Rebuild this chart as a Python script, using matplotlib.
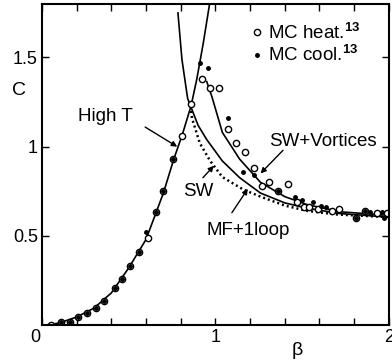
import matplotlib.pyplot as plt
from matplotlib.transforms import ScaledTranslation

plt.rcParams['font.family'] = ['Liberation Sans', 'DejaVu Sans']
plt.rcParams['mathtext.fontset'] = 'custom'
plt.rcParams['mathtext.rm'] = 'Liberation Sans'
plt.rcParams['mathtext.bf'] = 'Liberation Sans:bold'

# curves (beta, C)
hight_beta = [0.0, 0.05, 0.1, 0.2, 0.3, 0.4, 0.5, 0.6, 0.65, 0.7, 0.76, 0.81, 0.86, 0.893, 0.93, 0.968]
hight_C = [0.0, 0.003, 0.012, 0.045, 0.095, 0.18, 0.32, 0.48, 0.61, 0.74, 0.93, 1.07, 1.23, 1.38, 1.58, 1.81]

mf_beta = [0.784, 0.807, 0.824, 0.84, 0.9, 0.95, 1.04, 1.14, 1.26, 1.4, 1.53, 1.72, 2.0]
mf_C = [1.75, 1.49, 1.376, 1.27, 1.12, 1.04, 0.92, 0.826, 0.74, 0.685, 0.655, 0.625, 0.605]

sw_beta = [0.86, 0.865, 0.91, 0.97, 1.04, 1.16, 1.26, 1.4, 1.53, 1.7, 2.0]
sw_C = [1.2, 1.16, 1.02, 0.92, 0.83, 0.76, 0.72, 0.67, 0.64, 0.62, 0.605]

swv_beta = [0.95, 0.98, 1.04, 1.14, 1.26, 1.4, 1.53, 1.72, 2.0]
swv_C = [1.365, 1.28, 1.08, 0.93, 0.80, 0.72, 0.675, 0.635, 0.615]

# Monte Carlo data
heat_beta = [0.05, 0.11, 0.16, 0.21, 0.26, 0.31, 0.36, 0.42, 0.46, 0.51, 0.56, 0.61, 0.66, 0.70,
             0.755, 0.81, 0.86, 0.92, 0.97, 1.02, 1.07, 1.12, 1.17, 1.22, 1.27, 1.31, 1.36, 1.42,
             1.47, 1.51, 1.54, 1.59, 1.67, 1.71, 1.81, 1.86, 1.93, 1.99]
heat_C = [0.0, 0.015, 0.02, 0.045, 0.065, 0.095, 0.135, 0.21, 0.26, 0.33, 0.41, 0.49, 0.635, 0.75,
          0.93, 1.06, 1.24, 1.38, 1.33, 1.33, 1.10, 1.02, 0.97, 0.88, 0.78, 0.80, 0.75, 0.79,
          0.69, 0.66, 0.66, 0.65, 0.64, 0.65, 0.60, 0.64, 0.63, 0.63]

cool_beta = [0.11, 0.16, 0.21, 0.26, 0.31, 0.36, 0.42, 0.46, 0.51, 0.56, 0.60, 0.66, 0.70, 0.755,
             0.91, 0.96, 1.07, 1.16, 1.22, 1.36, 1.46, 1.50, 1.56, 1.61, 1.64, 1.81, 1.86, 1.89,
             1.96, 1.97]
cool_C = [0.015, 0.02, 0.045, 0.065, 0.095, 0.135, 0.21, 0.26, 0.33, 0.41, 0.52, 0.635, 0.75, 0.93,
          1.47, 1.44, 1.16, 0.86, 0.84, 0.75, 0.72, 0.70, 0.69, 0.67, 0.66, 0.60, 0.64, 0.635,
          0.635, 0.60]

fig = plt.figure(figsize=(3.92, 3.62), dpi=100)
ax = fig.add_axes([0.107, 0.102, 0.885, 0.887])

ax.plot(hight_beta, hight_C, color='black', lw=1.2)
ax.plot(mf_beta, mf_C, color='black', lw=1.2)
ax.plot(swv_beta, swv_C, color='black', lw=1.2)
ax.plot(sw_beta, sw_C, color='black', lw=1.8, linestyle=(0, (0.8, 1.2)))

ax.plot(heat_beta, heat_C, 'o', mfc='white', mec='black', ms=4.5, mew=1.0,
        label=r'MC heat.$^{\mathbf{13}}$')
ax.plot(cool_beta, cool_C, 'o', color='black', ms=2.5,
        label=r'MC cool.$^{\mathbf{13}}$')

ax.legend(loc='upper right', bbox_to_anchor=(0.955, 0.985), frameon=False, fontsize=13.5,
          handlelength=0.4, handletextpad=0.35, labelspacing=0.1, borderpad=0.2)

# annotations
arrow = dict(arrowstyle='-|>', color='black', lw=1.0, mutation_scale=8, shrinkA=0, shrinkB=0)
ax.text(0.365, 1.17, 'High T', fontsize=13.5, ha='center', va='center')
ax.annotate('', xy=(0.78, 1.0), xytext=(0.595, 1.11), arrowprops=arrow)
ax.text(0.90, 0.75, 'SW', fontsize=13.5, ha='center', va='center')
ax.annotate('', xy=(0.991, 0.893), xytext=(0.928, 0.826), arrowprops=arrow)
ax.text(1.19, 0.53, 'MF+1loop', fontsize=13.5, ha='center', va='center')
ax.annotate('', xy=(1.187, 0.764), xytext=(1.095, 0.63), arrowprops=arrow)
ax.text(1.62, 1.03, 'SW+Vortices', fontsize=13.5, ha='center', va='center')
ax.annotate('', xy=(1.26, 0.85), xytext=(1.39, 0.98), arrowprops=arrow)

ax.set_xlim(0, 2)
ax.set_ylim(0, 1.8)
ax.set_xticks([0, 1, 2])
ax.set_xticklabels(['0', '1', '2'])
ax.set_xticks([0.2, 0.4, 0.6, 0.8, 1.2, 1.4, 1.6, 1.8], minor=True)
ax.set_yticks([0.5, 1, 1.5])
ax.set_yticklabels(['0.5', '1', '1.5'])
ax.tick_params(which='both', direction='in', top=True, right=True, length=5, width=1.0,
               labelsize=13, pad=3)
# the "0" sits a little left of the corner
lab0 = ax.get_xticklabels()[0]
lab0.set_transform(lab0.get_transform() + ScaledTranslation(-0.07, 0, fig.dpi_scale_trans))
for s in ax.spines.values():
    s.set_linewidth(1.5)

ax.text(0.735, -0.078, 'β', transform=ax.transAxes, fontsize=14, ha='center', va='center')
ax.text(-0.065, 0.73, 'C', transform=ax.transAxes, fontsize=14, ha='center', va='center')

fig.savefig('out.png', dpi=100)
